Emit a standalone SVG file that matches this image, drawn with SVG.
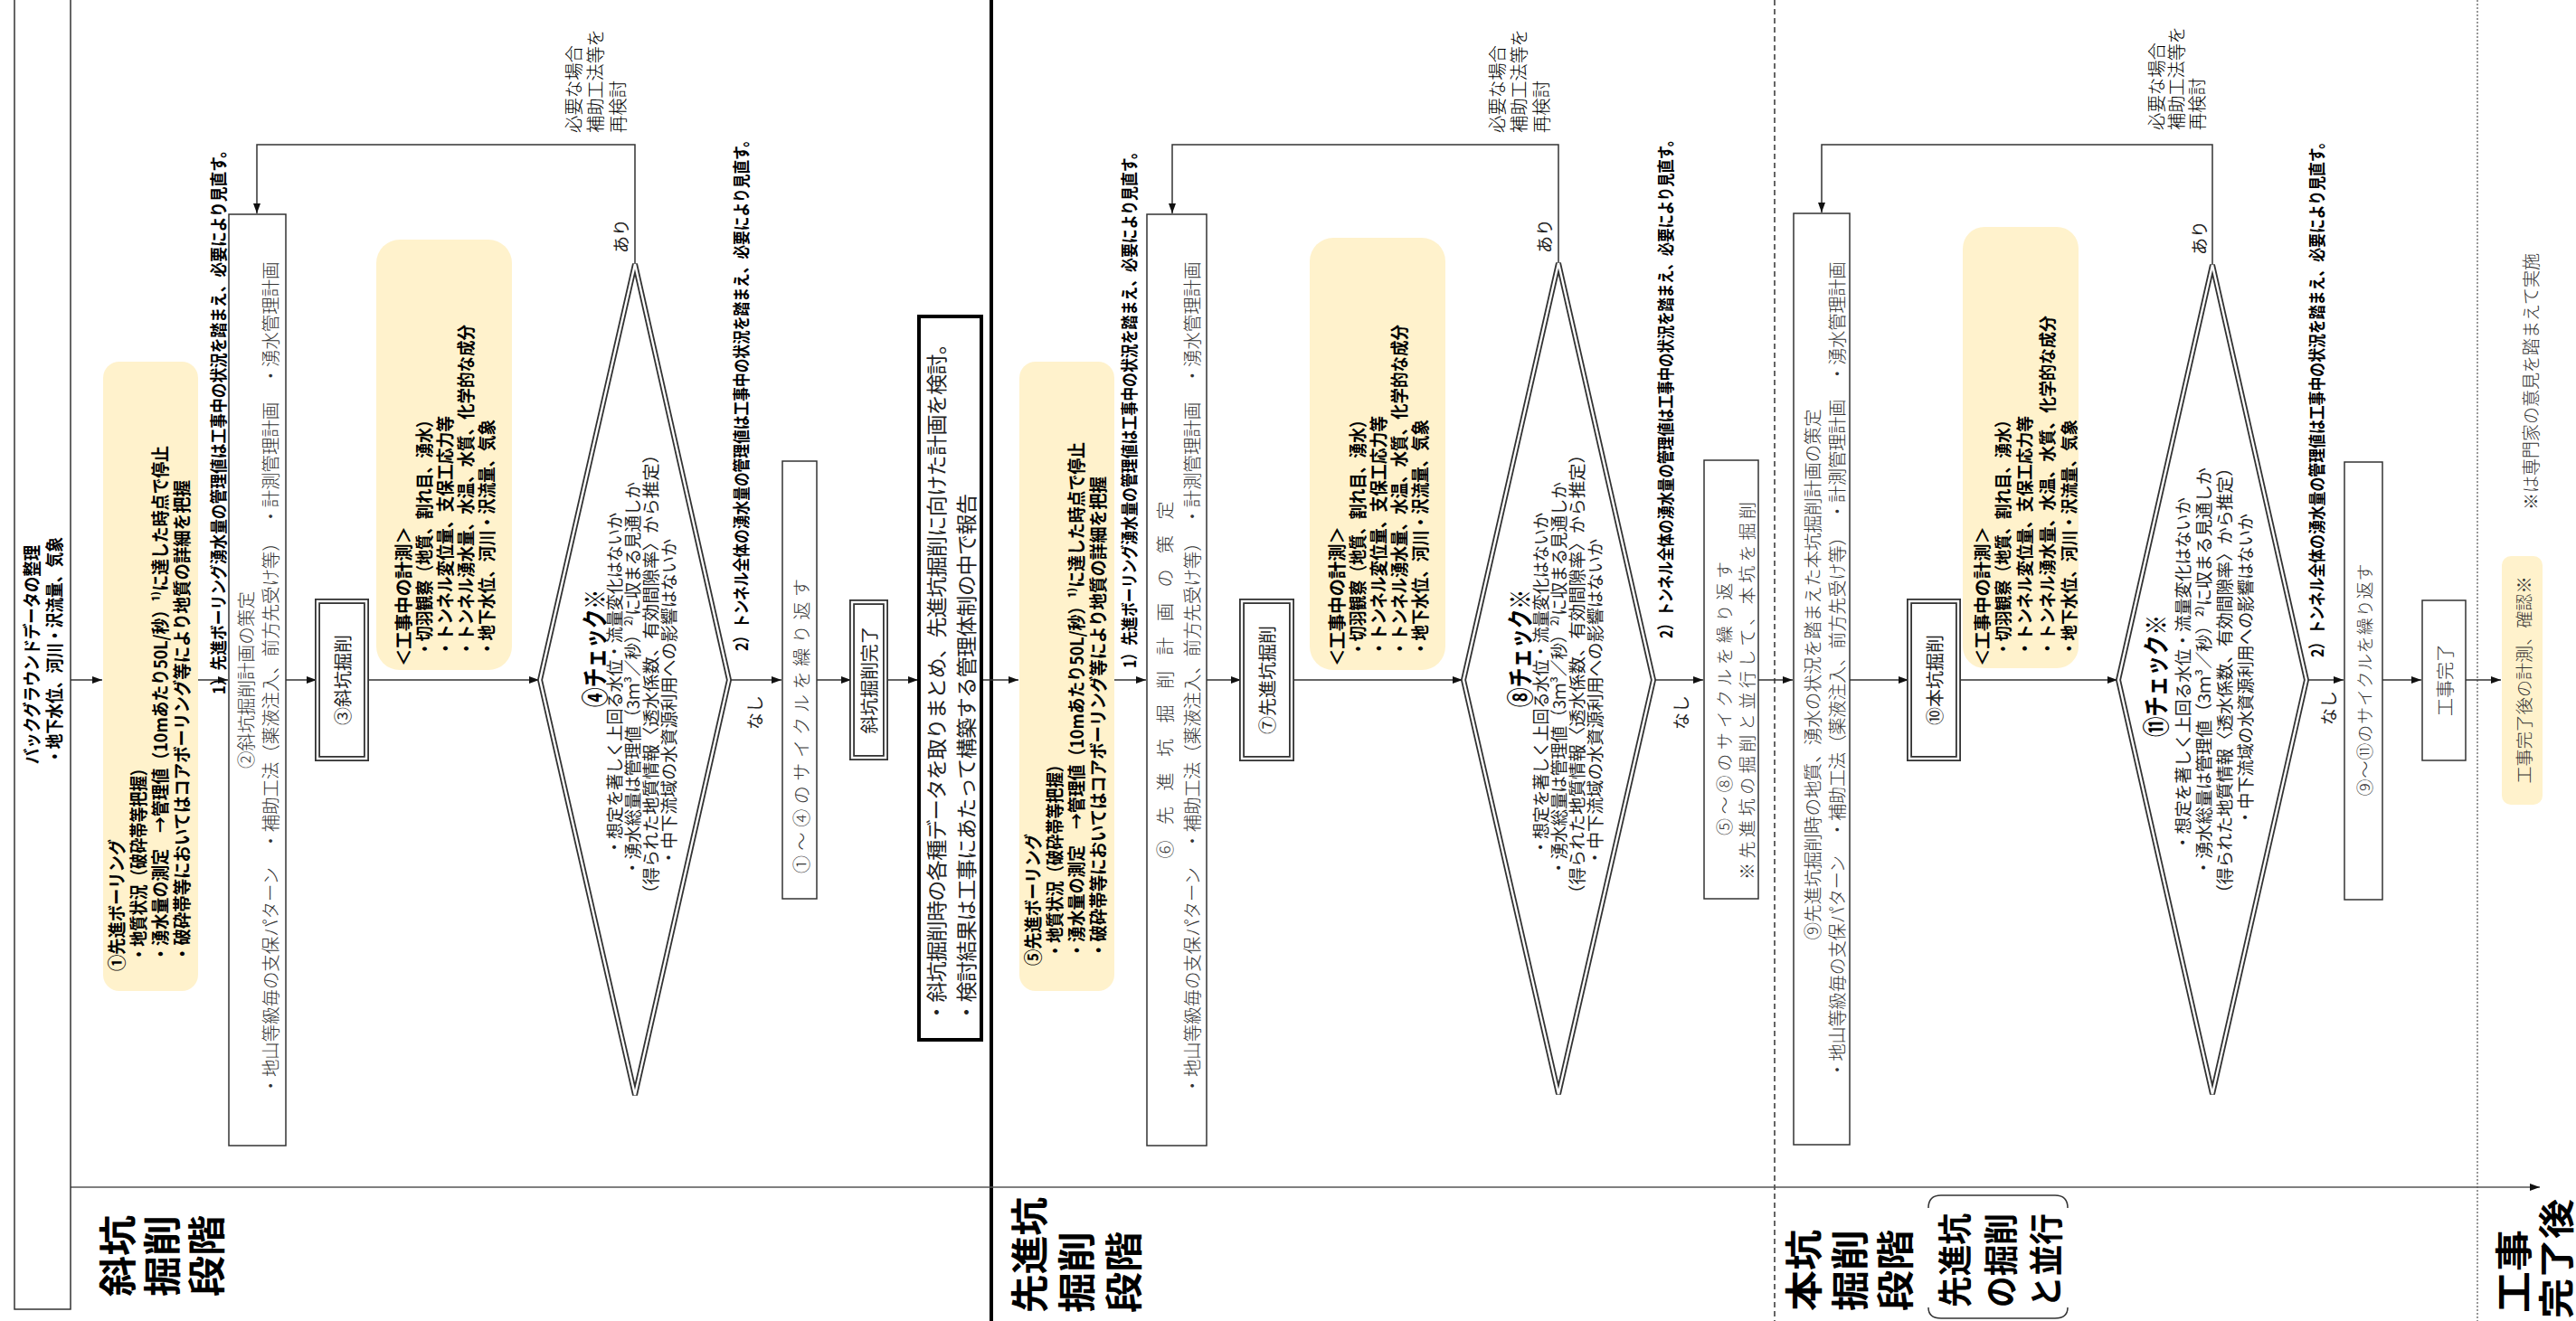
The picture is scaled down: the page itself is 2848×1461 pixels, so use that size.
<svg xmlns="http://www.w3.org/2000/svg" width="2848" height="1461" viewBox="0 0 2848 1461">
<defs>
<style>
text{font-family:"Noto Sans CJK JP","Noto Sans",sans-serif;dominant-baseline:central;fill:#000}
.b{font-weight:700}
.r{font-weight:400;fill:#222}
.l{font-weight:300;fill:#333}
.g{font-weight:300;fill:#666}
.m{text-anchor:middle}
.box{fill:#fff;stroke:#333;stroke-width:1.5}
.yel{fill:#fff2cc;stroke:none}
.dbl{fill:#fff;stroke:#333;stroke-width:6}
.dbli{fill:none;stroke:#fff;stroke-width:2.4}
.ln{fill:none;stroke:#333;stroke-width:1.5}
</style>
<marker id="ah" markerWidth="11" markerHeight="8" refX="11" refY="4" orient="auto" markerUnits="userSpaceOnUse"><path d="M0,0 L11,4 L0,8 z" fill="#111"/></marker>
</defs>
<rect width="2848" height="1461" fill="#fff"/>

<g id="separators">
<line x1="1096" y1="0" x2="1096" y2="1461" stroke="#000" stroke-width="4"/>
<line x1="1962" y1="0" x2="1962" y2="1461" stroke="#333" stroke-width="1.5" stroke-dasharray="6,4"/>
<line x1="2739" y1="0" x2="2739" y2="1461" stroke="#777" stroke-width="1.5" stroke-dasharray="2,2"/>
</g>

<g id="stage-labels" class="b">
<text x="127" y="1434" transform="rotate(-90 127 1434)" font-size="42" textLength="90" lengthAdjust="spacingAndGlyphs">斜坑</text>
<text x="176" y="1434" transform="rotate(-90 176 1434)" font-size="42" textLength="90" lengthAdjust="spacingAndGlyphs">掘削</text>
<text x="225" y="1434" transform="rotate(-90 225 1434)" font-size="42" textLength="90" lengthAdjust="spacingAndGlyphs">段階</text>
<text x="1135" y="1452" transform="rotate(-90 1135 1452)" font-size="42" textLength="128" lengthAdjust="spacingAndGlyphs">先進坑</text>
<text x="1187" y="1452" transform="rotate(-90 1187 1452)" font-size="42" textLength="90" lengthAdjust="spacingAndGlyphs">掘削</text>
<text x="1239" y="1452" transform="rotate(-90 1239 1452)" font-size="42" textLength="90" lengthAdjust="spacingAndGlyphs">段階</text>
<text x="1991" y="1450" transform="rotate(-90 1991 1450)" font-size="42" textLength="90" lengthAdjust="spacingAndGlyphs">本坑</text>
<text x="2042" y="1450" transform="rotate(-90 2042 1450)" font-size="42" textLength="90" lengthAdjust="spacingAndGlyphs">掘削</text>
<text x="2092" y="1450" transform="rotate(-90 2092 1450)" font-size="42" textLength="90" lengthAdjust="spacingAndGlyphs">段階</text>
<text x="2158" y="1446" transform="rotate(-90 2158 1446)" font-size="38" textLength="104" lengthAdjust="spacingAndGlyphs">先進坑</text>
<text x="2209" y="1446" transform="rotate(-90 2209 1446)" font-size="38" textLength="104" lengthAdjust="spacingAndGlyphs">の掘削</text>
<text x="2259" y="1446" transform="rotate(-90 2259 1446)" font-size="38" textLength="104" lengthAdjust="spacingAndGlyphs">と並行</text>
<path d="M2132,1336 Q2132,1322 2146,1322 H2272 Q2286,1322 2286,1336" fill="none" stroke="#333" stroke-width="1.5"/>
<path d="M2132,1446 Q2132,1458 2146,1458 H2272 Q2286,1458 2286,1446" fill="none" stroke="#333" stroke-width="1.5"/>
<text x="2776" y="1452" transform="rotate(-90 2776 1452)" font-size="42" textLength="92" lengthAdjust="spacingAndGlyphs">工事</text>
<text x="2824" y="1458" transform="rotate(-90 2824 1458)" font-size="40" textLength="132" lengthAdjust="spacingAndGlyphs">完了後</text>
</g>

<g id="connectors" class="ln">
<line x1="78" y1="1313" x2="2808" y2="1313" stroke="#555" marker-end="url(#ah)"/>
<line x1="78" y1="752" x2="113" y2="752" marker-end="url(#ah)"/>
<line x1="219" y1="752" x2="252" y2="752" marker-end="url(#ah)"/>
<line x1="316" y1="752" x2="350" y2="752" marker-end="url(#ah)"/>
<line x1="405" y1="752" x2="596" y2="752" marker-end="url(#ah)"/>
<line x1="806" y1="752" x2="864" y2="752" marker-end="url(#ah)"/>
<line x1="903" y1="752" x2="941" y2="752" marker-end="url(#ah)"/>
<line x1="979" y1="752" x2="1015" y2="752" marker-end="url(#ah)"/>
<line x1="1085" y1="752" x2="1126" y2="752" marker-end="url(#ah)"/>
<line x1="1232" y1="752" x2="1267" y2="752" marker-end="url(#ah)"/>
<line x1="1334" y1="752" x2="1372" y2="752" marker-end="url(#ah)"/>
<line x1="1428" y1="752" x2="1617" y2="752" marker-end="url(#ah)"/>
<line x1="1828" y1="752" x2="1883" y2="752" marker-end="url(#ah)"/>
<line x1="1944" y1="752" x2="1982" y2="752" marker-end="url(#ah)"/>
<line x1="2045" y1="752" x2="2110" y2="752" marker-end="url(#ah)"/>
<line x1="2165" y1="752" x2="2341" y2="752" marker-end="url(#ah)"/>
<line x1="2550" y1="752" x2="2591" y2="752" marker-end="url(#ah)"/>
<line x1="2634" y1="752" x2="2677" y2="752" marker-end="url(#ah)"/>
<line x1="2726" y1="752" x2="2765" y2="752" marker-end="url(#ah)"/>
<path d="M702,292 V160 H284 V236" marker-end="url(#ah)"/>
<path d="M1723,291 V160 H1296 V236" marker-end="url(#ah)"/>
<path d="M2446,293 V160 H2014 V235" marker-end="url(#ah)"/>
</g>

<g id="node-bg">
<rect x="16" y="-2" width="62" height="1450" class="box" stroke="#555"/>
<text class="b" x="34" y="845" transform="rotate(-90 34 845)" font-size="20" textLength="242" lengthAdjust="spacingAndGlyphs">バックグラウンドデータの整理</text>
<text class="b" x="59" y="845" transform="rotate(-90 59 845)" font-size="20" textLength="251" lengthAdjust="spacingAndGlyphs">・地下水位、河川・沢流量、気象</text>
</g>

<!-- ===== 斜坑 ===== -->
<g id="node-1">
<rect x="114" y="400" width="105" height="696" rx="18" class="yel"/>
<text class="b" x="128" y="1074" transform="rotate(-90 128 1074)" font-size="20" textLength="146" lengthAdjust="spacingAndGlyphs">①先進ボーリング</text>
<text class="b" x="152" y="1064" transform="rotate(-90 152 1064)" font-size="20" textLength="223" lengthAdjust="spacingAndGlyphs">・地質状況（破砕帯等把握）</text>
<text class="b" x="176" y="1064" transform="rotate(-90 176 1064)" font-size="20" textLength="571" lengthAdjust="spacingAndGlyphs">・湧水量の測定　→管理値（10mあたり50L/秒）¹⁾に達した時点で停止</text>
<text class="b" x="200" y="1064" transform="rotate(-90 200 1064)" font-size="20" textLength="533" lengthAdjust="spacingAndGlyphs">・破砕帯等においてはコアボーリング等により地質の詳細を把握</text>
</g>
<text id="note1-1" class="b" x="240" y="768" transform="rotate(-90 240 768)" font-size="19" textLength="610" lengthAdjust="spacingAndGlyphs">1）先進ボーリング湧水量の管理値は工事中の状況を踏まえ、必要により見直す。</text>
<g id="node-2">
<rect x="253" y="237" width="63" height="1030" class="box"/>
<text class="l m" x="271" y="752" transform="rotate(-90 271 752)" font-size="20" textLength="196" lengthAdjust="spacingAndGlyphs">②斜坑掘削計画の策定</text>
<text class="l m" x="298" y="750" transform="rotate(-90 298 750)" font-size="20" textLength="921" lengthAdjust="spacingAndGlyphs">・地山等級毎の支保パターン　・補助工法（薬液注入、前方先受け等）　・計測管理計画　・湧水管理計画</text>
</g>
<g id="node-3">
<rect x="351" y="665" width="54" height="174" class="dbl"/><rect x="351" y="665" width="54" height="174" class="dbli"/>
<text class="r m" x="378" y="752" transform="rotate(-90 378 752)" font-size="20">③斜坑掘削</text>
</g>
<g id="node-meas1">
<rect x="416" y="265" width="150" height="476" rx="26" class="yel"/>
<text class="b" x="445" y="737" transform="rotate(-90 445 737)" font-size="20" textLength="155" lengthAdjust="spacingAndGlyphs">＜工事中の計測＞</text>
<text class="b" x="468" y="726" transform="rotate(-90 468 726)" font-size="20" textLength="270" lengthAdjust="spacingAndGlyphs">・切羽観察（地質、割れ目、湧水）</text>
<text class="b" x="491" y="726" transform="rotate(-90 491 726)" font-size="20" textLength="266" lengthAdjust="spacingAndGlyphs">・トンネル変位量、支保工応力等</text>
<text class="b" x="514" y="726" transform="rotate(-90 514 726)" font-size="20" textLength="367" lengthAdjust="spacingAndGlyphs">・トンネル湧水量、水温、水質、化学的な成分</text>
<text class="b" x="537" y="726" transform="rotate(-90 537 726)" font-size="20" textLength="262" lengthAdjust="spacingAndGlyphs">・地下水位、河川・沢流量、気象</text>
</g>
<g id="node-4">
<polygon points="597,752 702,292 806,752 702,1211" class="dbl" stroke-width="5"/>
<polygon points="597,752 702,292 806,752 702,1211" class="dbli" stroke-width="1.8"/>
<text class="b" x="656" y="782" transform="rotate(-90 656 782)" font-size="29" textLength="130" lengthAdjust="spacingAndGlyphs">④チェック※</text>
<text class="r" x="678" y="946" transform="rotate(-90 678 946)" font-size="19" textLength="379" lengthAdjust="spacingAndGlyphs">・想定を著しく上回る水位・流量変化はないか</text>
<text class="r" x="698" y="969" transform="rotate(-90 698 969)" font-size="19" textLength="436" lengthAdjust="spacingAndGlyphs">・湧水総量は管理値（3ｍ³／秒）²⁾に収まる見通しか</text>
<text class="r" x="718" y="998" transform="rotate(-90 718 998)" font-size="19" textLength="505" lengthAdjust="spacingAndGlyphs">（得られた地質情報〈透水係数、有効間隙率〉から推定）</text>
<text class="r" x="738" y="958" transform="rotate(-90 738 958)" font-size="19" textLength="362" lengthAdjust="spacingAndGlyphs">・中下流域の水資源利用への影響はないか</text>
</g>
<text class="r m" x="685" y="261" transform="rotate(-90 685 261)" font-size="19">あり</text>
<g id="note-redo1" class="g">
<text x="633" y="147" transform="rotate(-90 633 147)" font-size="20" textLength="97" lengthAdjust="spacingAndGlyphs">必要な場合</text>
<text x="657" y="147" transform="rotate(-90 657 147)" font-size="20" textLength="115" lengthAdjust="spacingAndGlyphs">補助工法等を</text>
<text x="682" y="147" transform="rotate(-90 682 147)" font-size="20" textLength="58" lengthAdjust="spacingAndGlyphs">再検討</text>
</g>
<text id="note2-1" class="b" x="818" y="720" transform="rotate(-90 818 720)" font-size="19" textLength="573" lengthAdjust="spacingAndGlyphs">2）トンネル全体の湧水量の管理値は工事中の状況を踏まえ、必要により見直す。</text>
<text class="r m" x="833" y="788" transform="rotate(-90 833 788)" font-size="19">なし</text>
<g id="node-cycle1">
<rect x="865" y="510" width="38" height="484" class="box"/>
<text class="l" x="885" y="966" transform="rotate(-90 885 966)" font-size="20" textLength="326">①～④のサイクルを繰り返す</text>
</g>
<g id="node-done1">
<rect x="942" y="666" width="37" height="172" class="dbl" stroke-width="5"/><rect x="942" y="666" width="37" height="172" class="dbli" stroke-width="2"/>
<text class="r m" x="960" y="752" transform="rotate(-90 960 752)" font-size="20" textLength="119" lengthAdjust="spacingAndGlyphs">斜坑掘削完了</text>
</g>
<g id="node-summary">
<rect x="1016" y="350" width="69" height="800" fill="#fff" stroke="#000" stroke-width="4"/>
<text class="r" x="1034" y="1131" transform="rotate(-90 1034 1131)" font-size="23" textLength="762">・斜坑掘削時の各種データを取りまとめ、先進坑掘削に向けた計画を検討。</text>
<text class="r" x="1067" y="1131" transform="rotate(-90 1067 1131)" font-size="23" textLength="585">・検討結果は工事にあたって構築する管理体制の中で報告</text>
</g>

<!-- ===== 先進坑 ===== -->
<g id="node-5">
<rect x="1127" y="400" width="105" height="696" rx="18" class="yel"/>
<text class="b" x="1141" y="1068" transform="rotate(-90 1141 1068)" font-size="20" textLength="146" lengthAdjust="spacingAndGlyphs">⑤先進ボーリング</text>
<text class="b" x="1165" y="1060" transform="rotate(-90 1165 1060)" font-size="20" textLength="223" lengthAdjust="spacingAndGlyphs">・地質状況（破砕帯等把握）</text>
<text class="b" x="1189" y="1060" transform="rotate(-90 1189 1060)" font-size="20" textLength="571" lengthAdjust="spacingAndGlyphs">・湧水量の測定　→管理値（10mあたり50L/秒）¹⁾に達した時点で停止</text>
<text class="b" x="1213" y="1060" transform="rotate(-90 1213 1060)" font-size="20" textLength="533" lengthAdjust="spacingAndGlyphs">・破砕帯等においてはコアボーリング等により地質の詳細を把握</text>
</g>
<text id="note1-2" class="b" x="1247" y="739" transform="rotate(-90 1247 739)" font-size="19" textLength="579" lengthAdjust="spacingAndGlyphs">1）先進ボーリング湧水量の管理値は工事中の状況を踏まえ、必要により見直す。</text>
<g id="node-6">
<rect x="1268" y="237" width="66" height="1030" class="box"/>
<text class="l m" x="1287" y="752" transform="rotate(-90 1287 752)" font-size="20" textLength="395">⑥先進坑掘削計画の策定</text>
<text class="l m" x="1317" y="750" transform="rotate(-90 1317 750)" font-size="20" textLength="921" lengthAdjust="spacingAndGlyphs">・地山等級毎の支保パターン　・補助工法（薬液注入、前方先受け等）　・計測管理計画　・湧水管理計画</text>
</g>
<g id="node-7">
<rect x="1373" y="665" width="55" height="174" class="dbl"/><rect x="1373" y="665" width="55" height="174" class="dbli"/>
<text class="r m" x="1400" y="752" transform="rotate(-90 1400 752)" font-size="20">⑦先進坑掘削</text>
</g>
<g id="node-meas2">
<rect x="1448" y="263" width="150" height="478" rx="26" class="yel"/>
<text class="b" x="1477" y="737" transform="rotate(-90 1477 737)" font-size="20" textLength="155" lengthAdjust="spacingAndGlyphs">＜工事中の計測＞</text>
<text class="b" x="1500" y="726" transform="rotate(-90 1500 726)" font-size="20" textLength="270" lengthAdjust="spacingAndGlyphs">・切羽観察（地質、割れ目、湧水）</text>
<text class="b" x="1523" y="726" transform="rotate(-90 1523 726)" font-size="20" textLength="266" lengthAdjust="spacingAndGlyphs">・トンネル変位量、支保工応力等</text>
<text class="b" x="1546" y="726" transform="rotate(-90 1546 726)" font-size="20" textLength="367" lengthAdjust="spacingAndGlyphs">・トンネル湧水量、水温、水質、化学的な成分</text>
<text class="b" x="1569" y="726" transform="rotate(-90 1569 726)" font-size="20" textLength="262" lengthAdjust="spacingAndGlyphs">・地下水位、河川・沢流量、気象</text>
</g>
<g id="node-8">
<polygon points="1618,752 1723,291 1828,752 1723,1210" class="dbl" stroke-width="5"/>
<polygon points="1618,752 1723,291 1828,752 1723,1210" class="dbli" stroke-width="1.8"/>
<text class="b" x="1679" y="782" transform="rotate(-90 1679 782)" font-size="29" textLength="130" lengthAdjust="spacingAndGlyphs">⑧チェック※</text>
<text class="r" x="1702" y="946" transform="rotate(-90 1702 946)" font-size="19" textLength="379" lengthAdjust="spacingAndGlyphs">・想定を著しく上回る水位・流量変化はないか</text>
<text class="r" x="1722" y="969" transform="rotate(-90 1722 969)" font-size="19" textLength="436" lengthAdjust="spacingAndGlyphs">・湧水総量は管理値（3ｍ³／秒）²⁾に収まる見通しか</text>
<text class="r" x="1742" y="998" transform="rotate(-90 1742 998)" font-size="19" textLength="505" lengthAdjust="spacingAndGlyphs">（得られた地質情報〈透水係数、有効間隙率〉から推定）</text>
<text class="r" x="1762" y="958" transform="rotate(-90 1762 958)" font-size="19" textLength="362" lengthAdjust="spacingAndGlyphs">・中下流域の水資源利用への影響はないか</text>
</g>
<text class="r m" x="1706" y="261" transform="rotate(-90 1706 261)" font-size="19">あり</text>
<g id="note-redo2" class="g">
<text x="1654" y="147" transform="rotate(-90 1654 147)" font-size="20" textLength="97" lengthAdjust="spacingAndGlyphs">必要な場合</text>
<text x="1678" y="147" transform="rotate(-90 1678 147)" font-size="20" textLength="115" lengthAdjust="spacingAndGlyphs">補助工法等を</text>
<text x="1703" y="147" transform="rotate(-90 1703 147)" font-size="20" textLength="58" lengthAdjust="spacingAndGlyphs">再検討</text>
</g>
<text id="note2-2" class="b" x="1840" y="706" transform="rotate(-90 1840 706)" font-size="19" textLength="559" lengthAdjust="spacingAndGlyphs">2）トンネル全体の湧水量の管理値は工事中の状況を踏まえ、必要により見直す。</text>
<text class="r m" x="1857" y="788" transform="rotate(-90 1857 788)" font-size="19">なし</text>
<g id="node-cycle2">
<rect x="1884" y="509" width="60" height="485" class="box"/>
<text class="l" x="1905" y="924" transform="rotate(-90 1905 924)" font-size="19" textLength="303">⑤～⑧のサイクルを繰り返す</text>
<text class="l" x="1930" y="973" transform="rotate(-90 1930 973)" font-size="19" textLength="418">※先進坑の掘削と並行して、本坑を掘削</text>
</g>

<!-- ===== 本坑 ===== -->
<g id="node-9">
<rect x="1983" y="236" width="62" height="1030" class="box"/>
<text class="l m" x="2003" y="746" transform="rotate(-90 2003 746)" font-size="20" textLength="587" lengthAdjust="spacingAndGlyphs">⑨先進坑掘削時の地質、湧水の状況を踏まえた本坑掘削計画の策定</text>
<text class="l m" x="2030" y="741" transform="rotate(-90 2030 741)" font-size="20" textLength="903" lengthAdjust="spacingAndGlyphs">・地山等級毎の支保パターン　・補助工法（薬液注入、前方先受け等）　・計測管理計画　・湧水管理計画</text>
</g>
<g id="node-10">
<rect x="2111" y="665" width="54" height="174" class="dbl"/><rect x="2111" y="665" width="54" height="174" class="dbli"/>
<text class="r m" x="2138" y="752" transform="rotate(-90 2138 752)" font-size="20">⑩本坑掘削</text>
</g>
<g id="node-meas3">
<rect x="2170" y="251" width="128" height="488" rx="24" class="yel"/>
<text class="b" x="2190" y="737" transform="rotate(-90 2190 737)" font-size="19" textLength="155" lengthAdjust="spacingAndGlyphs">＜工事中の計測＞</text>
<text class="b" x="2213" y="726" transform="rotate(-90 2213 726)" font-size="19" textLength="270" lengthAdjust="spacingAndGlyphs">・切羽観察（地質、割れ目、湧水）</text>
<text class="b" x="2237" y="726" transform="rotate(-90 2237 726)" font-size="19" textLength="266" lengthAdjust="spacingAndGlyphs">・トンネル変位量、支保工応力等</text>
<text class="b" x="2262" y="726" transform="rotate(-90 2262 726)" font-size="19" textLength="377" lengthAdjust="spacingAndGlyphs">・トンネル湧水量、水温、水質、化学的な成分</text>
<text class="b" x="2286" y="726" transform="rotate(-90 2286 726)" font-size="19" textLength="262" lengthAdjust="spacingAndGlyphs">・地下水位、河川・沢流量、気象</text>
</g>
<g id="node-11">
<polygon points="2342,752 2446,293 2550,752 2446,1210" class="dbl" stroke-width="5"/>
<polygon points="2342,752 2446,293 2550,752 2446,1210" class="dbli" stroke-width="1.8"/>
<text class="b" x="2382" y="815" transform="rotate(-90 2382 815)" font-size="29" textLength="135" lengthAdjust="spacingAndGlyphs">⑪チェック※</text>
<text class="r" x="2412" y="941" transform="rotate(-90 2412 941)" font-size="19" textLength="391" lengthAdjust="spacingAndGlyphs">・想定を著しく上回る水位・流量変化はないか</text>
<text class="r" x="2435" y="969" transform="rotate(-90 2435 969)" font-size="19" textLength="452" lengthAdjust="spacingAndGlyphs">・湧水総量は管理値（3ｍ³／秒）²⁾に収まる見通しか</text>
<text class="r" x="2458" y="997" transform="rotate(-90 2458 997)" font-size="19" textLength="489" lengthAdjust="spacingAndGlyphs">（得られた地質情報〈透水係数、有効間隙率〉から推定）</text>
<text class="r" x="2481" y="913" transform="rotate(-90 2481 913)" font-size="19" textLength="345" lengthAdjust="spacingAndGlyphs">・中下流域の水資源利用への影響はないか</text>
</g>
<text class="r m" x="2430" y="263" transform="rotate(-90 2430 263)" font-size="19">あり</text>
<g id="note-redo3" class="g">
<text x="2383" y="144" transform="rotate(-90 2383 144)" font-size="20" textLength="97" lengthAdjust="spacingAndGlyphs">必要な場合</text>
<text x="2405" y="144" transform="rotate(-90 2405 144)" font-size="20" textLength="115" lengthAdjust="spacingAndGlyphs">補助工法等を</text>
<text x="2428" y="144" transform="rotate(-90 2428 144)" font-size="20" textLength="58" lengthAdjust="spacingAndGlyphs">再検討</text>
</g>
<text id="note2-3" class="b" x="2560" y="727" transform="rotate(-90 2560 727)" font-size="19" textLength="578" lengthAdjust="spacingAndGlyphs">2）トンネル全体の湧水量の管理値は工事中の状況を踏まえ、必要により見直す。</text>
<text class="r m" x="2573" y="783" transform="rotate(-90 2573 783)" font-size="19">なし</text>
<g id="node-cycle3">
<rect x="2592" y="511" width="42" height="484" class="box"/>
<text class="l m" x="2613" y="752" transform="rotate(-90 2613 752)" font-size="19" textLength="257">⑨～⑪のサイクルを繰り返す</text>
</g>
<g id="node-complete">
<rect x="2678" y="664" width="48" height="177" class="box" stroke-width="2"/>
<text class="l m" x="2702" y="752" transform="rotate(-90 2702 752)" font-size="20">工事完了</text>
</g>
<g id="node-after">
<rect x="2766" y="615" width="45" height="275" rx="10" class="yel"/>
<text class="l m" x="2789" y="752" transform="rotate(-90 2789 752)" font-size="19" textLength="229" lengthAdjust="spacingAndGlyphs">工事完了後の計測、確認※</text>
</g>
<text id="note-expert" class="l" x="2797" y="564" transform="rotate(-90 2797 564)" font-size="20" textLength="284" lengthAdjust="spacingAndGlyphs">※は専門家の意見を踏まえて実施</text>
</svg>
